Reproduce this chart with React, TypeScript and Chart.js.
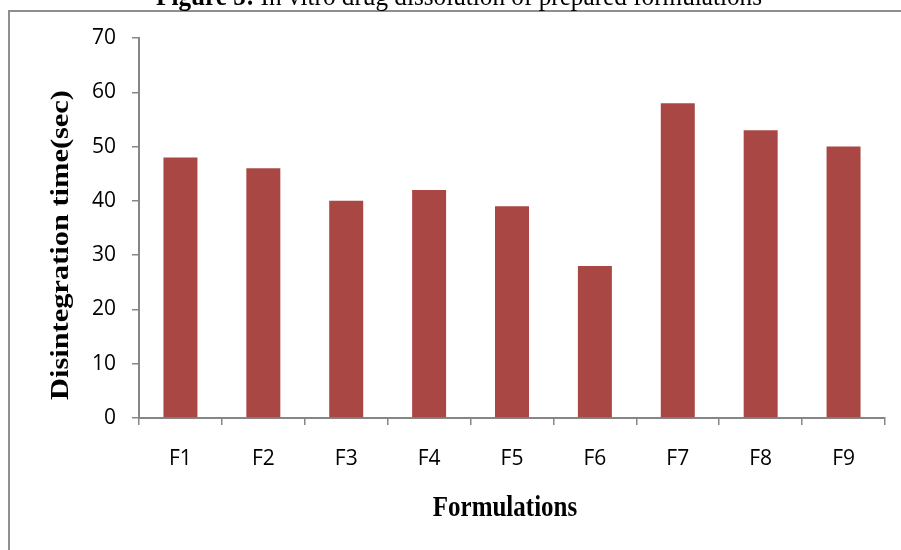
import React, { useEffect, useRef } from 'react';
import { Chart, registerables } from 'chart.js';

Chart.register(...registerables);

const categories = ['F1', 'F2', 'F3', 'F4', 'F5', 'F6', 'F7', 'F8', 'F9'];
const disintegrationTime = [48, 46, 40, 42, 39, 28, 58, 53, 50];
const yMin = 0;
const yMax = 70;
const yStep = 10;
const titleBold = 'Figure 5:';
const titleRest = ' In vitro drug dissolution of prepared formulations';
const xAxisTitle = 'Formulations';
const yAxisTitle = 'Disintegration time(sec)';

const AXIS_GRAY = '#868686';
const BAR_COLOR = '#A94744';

const decorPlugin = {
  id: 'decor',
  beforeDraw(chart: any) {
    const ctx = chart.ctx as CanvasRenderingContext2D;
    ctx.save();
    ctx.fillStyle = '#ffffff';
    ctx.fillRect(0, 0, chart.width, chart.height);
    ctx.strokeStyle = '#8f8f8f';
    ctx.lineWidth = 2;
    ctx.beginPath();
    ctx.moveTo(9, chart.height);
    ctx.lineTo(9, 11);
    ctx.lineTo(chart.width, 11);
    ctx.stroke();
    ctx.restore();
  },
  afterDraw(chart: any) {
    const ctx = chart.ctx as CanvasRenderingContext2D;
    ctx.save();
    ctx.fillStyle = '#000000';
    ctx.textBaseline = 'alphabetic';
    ctx.textAlign = 'left';

    // figure caption (cut off at top)
    ctx.save();
    ctx.translate(156, 5);
    ctx.font = 'bold 25px "Liberation Serif"';
    const w1 = ctx.measureText(titleBold).width;
    ctx.font = '25px "Liberation Serif"';
    const w2 = ctx.measureText(titleRest).width;
    ctx.scale(606 / (w1 + w2), 1.1);
    ctx.font = 'bold 25px "Liberation Serif"';
    ctx.fillText(titleBold, 0, 0);
    ctx.font = '25px "Liberation Serif"';
    ctx.fillText(titleRest, w1, 0);
    ctx.restore();

    // x axis title
    const area = chart.chartArea;
    ctx.save();
    ctx.translate((area.left + area.right) / 2 - 7, 516);
    ctx.scale(1, 1.15);
    ctx.font = 'bold 25px "Liberation Serif"';
    ctx.textAlign = 'center';
    ctx.fillText(xAxisTitle, 0, 0);
    ctx.restore();

    // y axis title
    ctx.save();
    ctx.translate(62, 245);
    ctx.rotate(-Math.PI / 2);
    ctx.font = 'bold 25px "Liberation Serif"';
    ctx.textAlign = 'center';
    ctx.textBaseline = 'middle';
    const tw = ctx.measureText(yAxisTitle).width;
    ctx.scale(310 / tw, 1);
    ctx.fillText(yAxisTitle, 0, 0);
    ctx.restore();

    ctx.restore();
  },
};

export default function App() {
  const ref = useRef<HTMLCanvasElement | null>(null);

  useEffect(() => {
    if (!ref.current) return;
    const chart = new Chart(ref.current, {
      type: 'bar',
      data: {
        labels: categories,
        datasets: [
          {
            data: disintegrationTime,
            backgroundColor: BAR_COLOR,
            borderWidth: 0,
            categoryPercentage: 1,
            barPercentage: 0.41,
          },
        ],
      },
      options: {
        animation: false,
        responsive: false,
        devicePixelRatio: 1,
        layout: { padding: { top: 38, right: 16, left: 0, bottom: 0 } },
        plugins: {
          legend: { display: false },
          title: { display: false },
          tooltip: { enabled: false },
        },
        scales: {
          x: {
            offset: true,
            grid: {
              display: true,
              offset: true,
              drawOnChartArea: false,
              drawTicks: true,
              tickLength: 7,
              color: AXIS_GRAY,
              lineWidth: 1.5,
            },
            border: { display: true, color: AXIS_GRAY, width: 2 },
            ticks: {
              color: '#000',
              padding: 21,
              font: { family: '"Open Sans"', size: 21 },
              maxRotation: 0,
            },
            afterFit(scale: any) {
              scale.height = 132;
            },
          },
          y: {
            min: yMin,
            max: yMax,
            grid: {
              display: true,
              drawOnChartArea: false,
              drawTicks: true,
              tickLength: 7,
              color: AXIS_GRAY,
              lineWidth: 1.5,
            },
            border: { display: true, color: AXIS_GRAY, width: 2 },
            ticks: {
              stepSize: yStep,
              color: '#000',
              padding: 16,
              font: { family: '"Open Sans"', size: 21 },
            },
            afterFit(scale: any) {
              scale.width = 139;
            },
          },
        },
      },
      plugins: [decorPlugin],
    });
    return () => chart.destroy();
  }, []);

  return (
    <div style={{ position: 'absolute', left: 0, top: 0, width: 901, height: 550 }}>
      <canvas ref={ref} width={901} height={550} style={{ width: 901, height: 550, display: 'block' }} />
    </div>
  );
}
